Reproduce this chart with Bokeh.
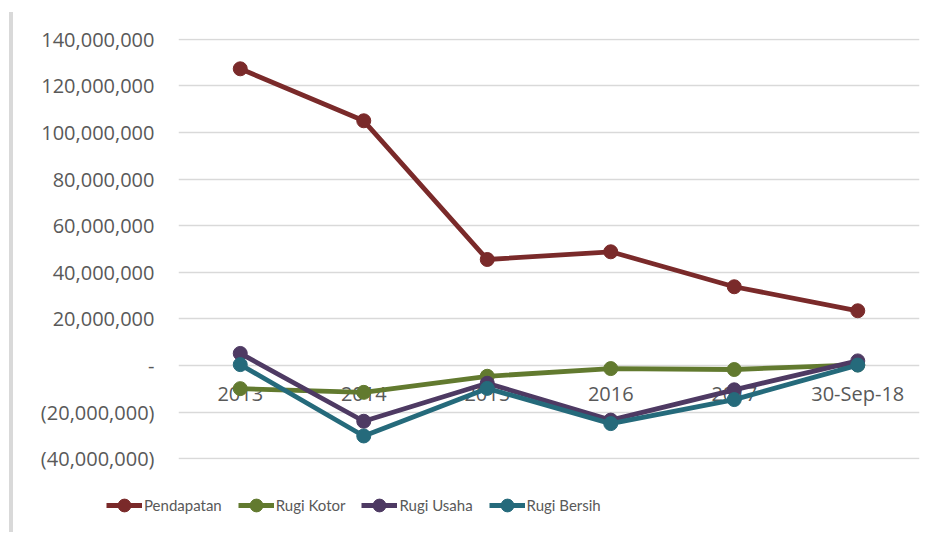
from bokeh.plotting import figure
from bokeh.models import FactorRange, Range1d, FixedTicker, Legend, LegendItem, Div
from bokeh.layouts import row, column
from bokeh.embed import file_html
from bokeh.resources import INLINE

categories = ["2013", "2014", "2015", "2016", "2017", "30-Sep-18"]
pendapatan = [127.3e6, 105.0e6, 45.5e6, 48.8e6, 33.8e6, 23.5e6]
rugi_kotor = [-9.9e6, -11.5e6, -4.6e6, -1.3e6, -1.7e6, 0.3e6]
rugi_usaha = [5.2e6, -23.9e6, -7.6e6, -23.4e6, -10.4e6, 2.0e6]
rugi_bersih = [0.4e6, -30.2e6, -9.8e6, -24.9e6, -14.6e6, 0.2e6]

y_ticks = [-40000000, -20000000, 0, 20000000, 40000000, 60000000,
           80000000, 100000000, 120000000, 140000000]
y_tick_labels = ["(40,000,000)", "(20,000,000)", "-", "20,000,000", "40,000,000",
                 "60,000,000", "80,000,000", "100,000,000", "120,000,000", "140,000,000"]

series = [
    ("Pendapatan", pendapatan, "#7a2a2a"),
    ("Rugi Kotor", rugi_kotor, "#627a2f"),
    ("Rugi Usaha", rugi_usaha, "#4e3a63"),
    ("Rugi Bersih", rugi_bersih, "#256a7b"),
]

p = figure(width=912, height=474, x_range=FactorRange(*categories),
           y_range=Range1d(-40300000, 140300000),
           output_backend="svg", toolbar_location=None,
           min_border_left=165, min_border_right=6,
           min_border_top=38, min_border_bottom=15)
p.outline_line_color = None
p.background_fill_color = "white"
p.border_fill_color = "white"

# grid
p.xgrid.grid_line_color = None
p.ygrid.grid_line_color = "#d9d9d9"
p.ygrid.grid_line_width = 1.5

# y axis
p.yaxis.ticker = FixedTicker(ticks=y_ticks)
p.yaxis.major_label_overrides = dict(zip(y_ticks, y_tick_labels))
p.yaxis.axis_line_color = None
p.yaxis.major_tick_line_color = None
p.yaxis.minor_tick_line_color = None
p.yaxis.major_tick_out = 0
p.yaxis.major_tick_in = 0
p.yaxis.major_label_text_font = "Open Sans"
p.yaxis.major_label_text_font_size = "20px"
p.yaxis.major_label_text_color = "#595959"
p.yaxis.major_label_standoff = 24

# category labels sit on the zero line (drawn under the series lines)
p.xaxis.visible = False
zero_line = [0] * len(categories)
p.text(x=categories, y=zero_line, text=categories, y_offset=28,
       text_align="center", text_baseline="middle",
       text_font={"value": "Open Sans"}, text_font_size="20px",
       text_color="#595959")

for name, vals, color in series:
    p.line(categories, vals, line_color=color, line_width=4.8)
    p.scatter(categories, vals, size=14, fill_color=color, line_color=color)

# legend strip: its own small figure (series drawn out of view, only legend shows)
lg = figure(width=912, height=56, x_range=FactorRange(*categories),
            y_range=Range1d(1e9, 2e9),
            output_backend="svg", toolbar_location=None,
            min_border_left=0, min_border_right=0, min_border_top=0, min_border_bottom=0)
lg.axis.visible = False
lg.grid.visible = False
lg.outline_line_color = None
items = []
for name, vals, color in series:
    r1 = lg.line(categories, vals, line_color=color, line_width=5)
    r2 = lg.scatter(categories, vals, size=13, fill_color=color, line_color=color)
    items.append(LegendItem(label=name, renderers=[r1, r2]))

legend = Legend(items=items, orientation="horizontal", location=(93, 9),
                glyph_width=36, glyph_height=32, label_standoff=2, spacing=16,
                padding=0, margin=0, border_line_color=None,
                background_fill_alpha=0,
                label_text_font="Lato", label_text_font_size="15px",
                label_text_color="#595959")
lg.add_layout(legend)

bar = Div(text="", width=4, height=520, margin=(12, 0, 0, 9),
          styles={"background-color": "#d9d9d9"})

layout = row(bar, column(p, row(lg), spacing=0), spacing=0)

open("out.html", "w").write(file_html(layout, INLINE))
